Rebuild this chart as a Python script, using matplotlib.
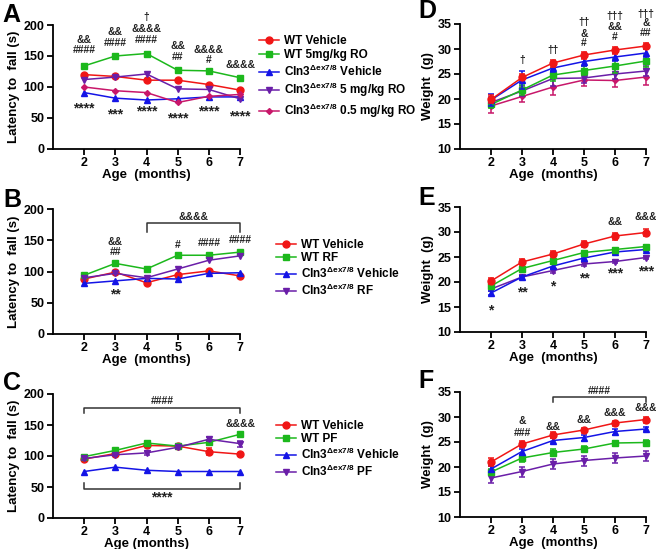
import matplotlib.pyplot as plt

plt.rcParams['font.family'] = ['Liberation Sans', 'DejaVu Sans']
plt.rcParams['font.weight'] = 'bold'
plt.rcParams['axes.labelweight'] = 'bold'
plt.rcParams['mathtext.fontset'] = 'custom'
plt.rcParams['mathtext.rm'] = 'Liberation Sans'
plt.rcParams['mathtext.it'] = 'Liberation Sans'

months = [2, 3, 4, 5, 6, 7]
cln3 = r'Cln3$^{\Delta\mathrm{ex7/8}}$'

# ---- panel A: rotarod, RO treatment
a_wt_veh = [120, 117, 111, 111, 104, 95]
a_wt_ro5 = [134, 150, 154, 127, 126, 115]
a_ko_veh = [91, 82, 79, 81, 84, 84]
a_ko_ro5 = [112, 116, 121, 97, 96, 81]
a_ko_ro05 = [100, 94, 91, 75, 85, 88]

# ---- panel B: rotarod, RF
b_wt_veh = [88, 99, 82, 95, 101, 93]
b_wt_rf = [94, 113, 104, 126, 126, 131]
b_ko_veh = [81, 85, 89, 88, 97, 98]
b_ko_rf = [90, 97, 90, 104, 118, 125]

# ---- panel C: rotarod, PF
c_wt_veh = [95, 104, 117, 116, 107, 103]
c_wt_pf = [99, 109, 121, 116, 122, 135]
c_ko_veh = [75, 82, 77, 75, 75, 75]
c_ko_pf = [96, 102, 105, 114, 127, 120]
c_err_wt_veh = [3, 3, 3, 3, 6, 2]
c_err_ko_pf = [2, 2, 3, 2, 3, 5]

# ---- panel D: weight, RO treatment
d_wt_veh = [19.9, 24.3, 27.2, 28.8, 29.8, 30.6]
d_wt_ro5 = [18.9, 21.8, 24.8, 25.7, 26.6, 27.6]
d_ko_veh = [19.8, 23.8, 26.2, 27.5, 28.4, 29.2]
d_ko_ro5 = [19.3, 21.6, 24.1, 24.2, 25.0, 25.6]
d_ko_ro05 = [18.6, 20.5, 22.4, 23.8, 23.7, 24.4]
d_err_wt_veh = [0.8, 0.6, 0.7, 0.7, 0.7, 0.7]
d_err_wt_ro5 = [0.8, 1.0, 1.3, 1.0, 1.5, 1.2]
d_err_ko_veh = [1.2, 1.8, 0.9, 0.8, 0.8, 0.8]
d_err_ko_ro5 = [1.0, 1.0, 1.5, 1.0, 1.0, 1.0]
d_err_ko_ro05 = [1.5, 1.2, 1.6, 1.2, 1.3, 1.6]

# ---- panel E: weight, RF
e_wt_veh = [20.2, 24.0, 25.6, 27.6, 29.2, 29.9]
e_wt_rf = [19.2, 22.7, 24.3, 25.9, 26.5, 27.1]
e_ko_veh = [17.8, 21.0, 23.2, 24.8, 26.0, 26.5]
e_ko_rf = [18.6, 21.0, 22.3, 23.6, 24.1, 24.9]
e_err_wt_veh = [0.6, 0.6, 0.6, 0.6, 0.7, 0.7]
e_err_wt_rf = [0.4, 0.4, 0.4, 0.3, 0.3, 0.3]
e_err_ko_veh = [0.4, 0.3, 0.4, 0.3, 0.3, 0.3]
e_err_ko_rf = [0.4, 0.3, 0.5, 0.4, 0.3, 0.3]

# ---- panel F: weight, PF
f_wt_veh = [21.0, 24.6, 26.4, 27.4, 28.8, 29.5]
f_wt_pf = [19.0, 21.8, 22.9, 23.6, 24.8, 24.9]
f_ko_veh = [19.6, 23.1, 25.3, 25.9, 27.1, 27.6]
f_ko_pf = [17.8, 19.1, 20.6, 21.3, 21.8, 22.2]
f_err_wt_veh = [0.8, 0.6, 0.6, 0.5, 0.5, 0.6]
f_err_wt_pf = [0.6, 0.7, 0.7, 0.6, 0.5, 0.5]
f_err_ko_veh = [0.6, 0.6, 0.5, 0.6, 0.6, 0.4]
f_err_ko_pf = [1.0, 1.0, 1.0, 1.0, 1.0, 1.0]

RED = '#f01616'
GREEN = '#1cb81c'
BLUE = '#1414e6'
PURPLE = '#6a1ea8'
MAGENTA = '#c8176a'


def style_axes(ax, ylim, yticks, ylabel, xlabel):
  ax.set_xlim(1, 7)
  ax.set_ylim(*ylim)
  ax.set_xticks(months)
  ax.set_yticks(yticks)
  ax.spines['top'].set_visible(False)
  ax.spines['right'].set_visible(False)
  ax.spines['left'].set_linewidth(1.3)
  ax.spines['bottom'].set_linewidth(1.3)
  ax.tick_params(width=1.3, length=4, labelsize=9, pad=2)
  ax.set_ylabel(ylabel, fontsize=9.5, labelpad=3)
  ax.set_xlabel(xlabel, fontsize=9.5, labelpad=0)


def series(ax, y, color, marker, label, err=None, ms=5):
  if err is not None:
    eb = ax.errorbar(months, y, yerr=err, fmt='none', ecolor=color,
                     elinewidth=1.1, capsize=2.5, capthick=1.1)
    for art in eb.lines[1] + eb.lines[2]:
      art.set_clip_on(False)
  ax.plot(months, y, color=color, marker=marker, ms=ms, lw=1.1,
          label=label, clip_on=False)


def notes(ax, items, size=7.5):
  for x, y, s in items:
    fs = 10 if s.startswith('*') else size
    ax.text(x, y, s, ha='center', va='center', fontsize=fs, clip_on=False,
            color='#222222')


def bracket(ax, x0, x1, y, tip):
  ax.plot([x0, x0, x1, x1], [tip, y, y, tip], color='#333333', lw=1.1,
          clip_on=False)


fig = plt.figure(figsize=(6.56, 5.49), dpi=100)
W, H = 656, 549


def add_ax(left, top, right, bottom):
  return fig.add_axes([left / W, 1 - bottom / H, (right - left) / W, (bottom - top) / H])


def legend(ax, x, y, spacing=0.12):
  ax.legend(loc='upper left', bbox_to_anchor=(x / W, 1 - y / H),
            bbox_transform=fig.transFigure, frameon=False, fontsize=8.5,
            handlelength=1.7, handletextpad=0.4, borderpad=0,
            borderaxespad=0, labelspacing=spacing)


# A
ax = add_ax(53, 25, 240, 149)
series(ax, a_wt_veh, RED, 'o', 'WT Vehicle')
series(ax, a_wt_ro5, GREEN, 's', 'WT 5mg/kg RO')
series(ax, a_ko_veh, BLUE, '^', cln3 + ' Vehicle')
series(ax, a_ko_ro5, PURPLE, 'v', cln3 + ' 5 mg/kg RO')
series(ax, a_ko_ro05, MAGENTA, 'D', cln3 + ' 0.5 mg/kg RO', ms=3)
style_axes(ax, (0, 200), [0, 50, 100, 150, 200], 'Latency to  fall (s)', 'Age  (months)')
notes(ax, [(2, 176, '&&'), (2, 159, '####'), (3, 189, '&&'), (3, 171, '####'),
           (4, 213, '†'), (4, 194, '&&&&'), (4, 176, '####'),
           (5, 166, '&&'), (5, 149, '##'), (6, 159, '&&&&'), (6, 144, '#'),
           (7, 136, '&&&&'),
           (2, 66, '****'), (3, 55, '***'), (4, 60, '****'), (5, 50, '****'),
           (6, 60, '****'), (7, 52, '****')])
legend(ax, 259, 35, spacing=0.2)

# B
ax = add_ax(53, 209, 240, 334)
series(ax, b_wt_veh, RED, 'o', 'WT Vehicle')
series(ax, b_wt_rf, GREEN, 's', 'WT RF')
series(ax, b_ko_veh, BLUE, '^', cln3 + ' Vehicle')
series(ax, b_ko_rf, PURPLE, 'v', cln3 + ' RF')
style_axes(ax, (0, 200), [0, 50, 100, 150, 200], 'Latency to  fall (s)', 'Age  (months)')
bracket(ax, 4, 7, 177, 164)
notes(ax, [(5.5, 188, '&&&&'), (3, 148, '&&'), (3, 132, '##'), (5, 142, '#'),
           (6, 146, '####'), (7, 150, '####'), (3, 64, '**')])
legend(ax, 276, 239)

# C
ax = add_ax(53, 394, 240, 518)
series(ax, c_wt_veh, RED, 'o', 'WT Vehicle', err=c_err_wt_veh)
series(ax, c_wt_pf, GREEN, 's', 'WT PF')
series(ax, c_ko_veh, BLUE, '^', cln3 + ' Vehicle')
series(ax, c_ko_pf, PURPLE, 'v', cln3 + ' PF', err=c_err_ko_pf)
style_axes(ax, (0, 200), [0, 50, 100, 150, 200], 'Latency to  fall (s)', 'Age (months)')
bracket(ax, 2, 7, 178, 169)
bracket(ax, 2, 7, 47, 57)
notes(ax, [(4.5, 189, '####'), (7, 151, '&&&&'), (4.5, 33, '****')])
legend(ax, 276, 420)

# D
ax = add_ax(460, 24, 646, 149)
series(ax, d_ko_ro05, MAGENTA, 'D', 'KO 0.5', err=d_err_ko_ro05, ms=3)
series(ax, d_ko_ro5, PURPLE, 'v', 'KO 5', err=d_err_ko_ro5)
series(ax, d_wt_ro5, GREEN, 's', 'WT RO', err=d_err_wt_ro5)
series(ax, d_ko_veh, BLUE, '^', 'KO Vehicle', err=d_err_ko_veh)
series(ax, d_wt_veh, RED, 'o', 'WT Vehicle', err=d_err_wt_veh)
style_axes(ax, (10, 35), [10, 15, 20, 25, 30, 35], 'Weight  (g)', 'Age  (months)')
notes(ax, [(3, 27.7, '†'), (4, 29.7, '††'), (5, 35.3, '††'), (5, 33.0, '&'),
           (5, 31.3, '#'), (6, 36.6, '†††'), (6, 34.5, '&&'), (6, 32.5, '#'),
           (7, 37.0, '†††'), (7, 35.2, '&'), (7, 33.2, '##')])

# E
ax = add_ax(460, 207, 646, 332)
series(ax, e_ko_rf, PURPLE, 'v', 'KO RF', err=e_err_ko_rf)
series(ax, e_ko_veh, BLUE, '^', 'KO Vehicle', err=e_err_ko_veh)
series(ax, e_wt_rf, GREEN, 's', 'WT RF', err=e_err_wt_rf)
series(ax, e_wt_veh, RED, 'o', 'WT Vehicle', err=e_err_wt_veh)
style_axes(ax, (10, 35), [10, 15, 20, 25, 30, 35], 'Weight  (g)', 'Age  (months)')
notes(ax, [(6, 32.0, '&&'), (7, 32.9, '&&&'), (2, 14.4, '*'), (3, 18.0, '**'),
           (4, 19.2, '*'), (5, 20.8, '**'), (6, 21.8, '***'), (7, 22.1, '***')])

# F
ax = add_ax(460, 392, 646, 517)
series(ax, f_ko_pf, PURPLE, 'v', 'KO PF', err=f_err_ko_pf)
series(ax, f_wt_pf, GREEN, 's', 'WT PF', err=f_err_wt_pf)
series(ax, f_ko_veh, BLUE, '^', 'KO Vehicle', err=f_err_ko_veh)
series(ax, f_wt_veh, RED, 'o', 'WT Vehicle', err=f_err_wt_veh)
style_axes(ax, (10, 35), [10, 15, 20, 25, 30, 35], 'Weight  (g)', 'Age  (months)')
bracket(ax, 4, 7, 34.1, 33.0)
notes(ax, [(5.5, 35.2, '####'), (3, 29.1, '&'), (3, 26.9, '###'), (4, 28.1, '&&'),
           (5, 29.4, '&&'), (6, 30.8, '&&&'), (7, 31.8, '&&&')])

for letter, x, y in [('A', 2, 22), ('B', 3, 207), ('C', 3, 390),
                     ('D', 418, 18), ('E', 418, 205), ('F', 418, 388)]:
  fig.text(x / W, 1 - y / H, letter, fontsize=18, fontweight='bold',
           va='baseline', ha='left')

fig.savefig('out.png', dpi=100)
